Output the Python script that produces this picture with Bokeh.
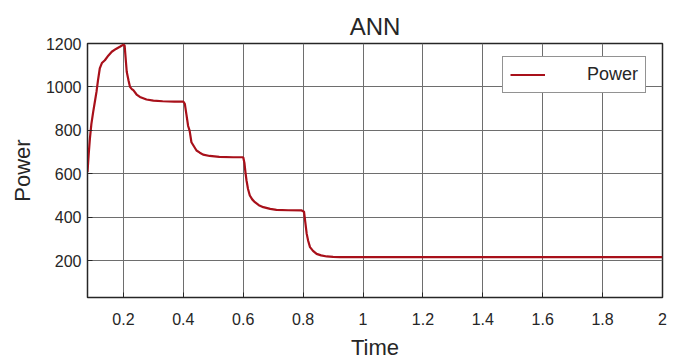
from bokeh.plotting import figure
from bokeh.models import Range1d, FixedTicker, Legend, LegendItem
from bokeh.embed import file_html
from bokeh.resources import INLINE

# ---- data ----
time = [0.080, 0.084, 0.088, 0.093, 0.099, 0.105, 0.110, 0.115, 0.121, 0.128,
        0.138, 0.150, 0.161, 0.175, 0.188, 0.200, 0.204, 0.211, 0.217, 0.222,
        0.228, 0.233, 0.244, 0.255, 0.277, 0.300, 0.331, 0.370, 0.400, 0.405,
        0.410, 0.416, 0.421, 0.427, 0.444, 0.455, 0.466, 0.488, 0.520, 0.566,
        0.600, 0.604, 0.608, 0.611, 0.616, 0.622, 0.630, 0.639, 0.652, 0.667,
        0.690, 0.711, 0.750, 0.795, 0.803, 0.807, 0.812, 0.817, 0.823, 0.833,
        0.845, 0.860, 0.879, 0.900, 0.923, 1.000, 1.500, 2.000]
power = [609, 690, 762, 830, 885, 935, 977, 1030, 1085, 1110,
         1123, 1145, 1162, 1175, 1185, 1195, 1190, 1070, 1030, 1000,
         990, 985, 965, 954, 942, 937, 934, 932, 932, 922,
         876, 820, 799, 745, 707, 697, 688, 682, 678, 676,
         676, 650, 600, 569, 530, 500, 482, 469, 455, 446,
         438, 434, 432, 431, 425, 380, 323, 290, 262, 245,
         231, 224, 219, 217, 216, 216, 216, 216]

x_ticks = [0.2, 0.4, 0.6, 0.8, 1.0, 1.2, 1.4, 1.6, 1.8, 2.0]
x_tick_labels = ["0.2", "0.4", "0.6", "0.8", "1", "1.2", "1.4", "1.6", "1.8", "2"]
y_ticks = [200, 400, 600, 800, 1000, 1200]

FONT = "Liberation Sans"
TXT = "#262626"

p = figure(width=674, height=362, output_backend="svg", toolbar_location=None,
           x_range=Range1d(0.08, 2.0), y_range=Range1d(30, 1200),
           min_border_left=87, min_border_right=12, min_border_top=43,
           min_border_bottom=65)

p.title.text = "ANN"
p.title.align = "center"
p.title.text_font = FONT
p.title.text_font_size = "24px"
p.title.text_font_style = "normal"
p.title.text_color = TXT
p.title.standoff = 8

r = p.line(time, power, line_color="#a8101a", line_width=2.2)

p.xaxis.ticker = FixedTicker(ticks=x_ticks)
p.xaxis.major_label_overrides = {t: l for t, l in zip(x_ticks, x_tick_labels)}
p.yaxis.ticker = FixedTicker(ticks=y_ticks)

for ax in (p.xaxis, p.yaxis):
    ax.major_tick_in = 5
    ax.major_tick_out = 0
    ax.minor_tick_line_color = None
    ax.axis_line_color = "#262626"
    ax.major_tick_line_color = "#262626"
    ax.major_label_text_font = FONT
    ax.major_label_text_font_size = "16px"
    ax.major_label_text_color = TXT
    ax.axis_label_text_font = FONT
    ax.axis_label_text_font_size = "22px"
    ax.axis_label_text_font_style = "normal"
    ax.axis_label_text_color = TXT

p.xaxis.axis_label = "Time"
p.yaxis.axis_label = "Power"
p.xaxis.major_label_standoff = 15
p.yaxis.major_label_standoff = 6
p.xaxis.axis_label_standoff = 7
p.yaxis.axis_label_standoff = 8

p.grid.grid_line_color = "#6e6e6e"
p.grid.grid_line_width = 1
p.xgrid.ticker = FixedTicker(ticks=x_ticks)
p.ygrid.ticker = FixedTicker(ticks=y_ticks)
p.outline_line_color = "#262626"
p.outline_line_width = 1.5

legend = Legend(items=[LegendItem(label="Power", renderers=[r])],
                location=(415, 204), orientation="vertical",
                padding=7, margin=0, spacing=0,
                glyph_width=35, glyph_height=21, label_height=21,
                label_standoff=42,
                label_text_font=FONT, label_text_font_size="18px",
                label_text_color=TXT,
                border_line_color="#262626", border_line_width=1,
                background_fill_color="white", background_fill_alpha=1)
p.add_layout(legend)

open("out.html", "w").write(file_html(p, INLINE))
